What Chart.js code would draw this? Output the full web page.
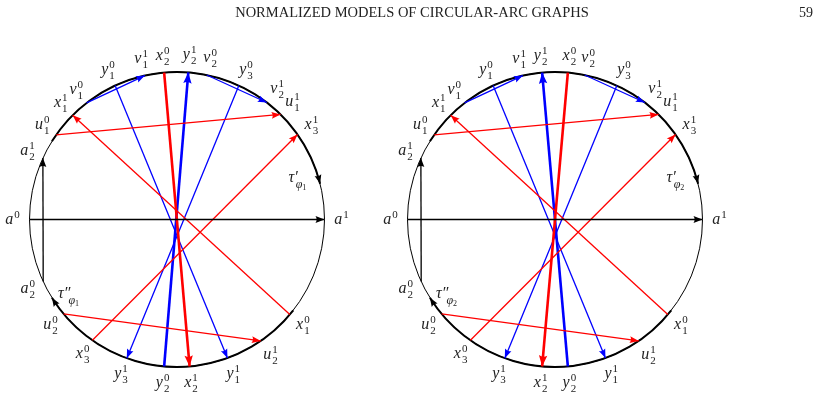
<!DOCTYPE html>
<html>
<head>
<meta charset="utf-8">
<script src="https://cdn.jsdelivr.net/npm/chart.js@4"></script>
<style>
  body { margin: 0; background: #fff; }
  #wrap { width: 825px; height: 419px; }
</style>
</head>
<body>
<div id="wrap"><canvas id="arcChart"></canvas></div>
<script>
// point names: base letter, subscript, superscript
const pointNames = ['a0', 'a1', 'a21', 'a20', 'u10', 'x11', 'v10', 'y10', 'v11', 'x20', 'y21', 'v20',
  'y30', 'v21', 'u11', 'x31', 'u20', 'x30', 'y31', 'y20', 'x21', 'y11', 'u21', 'x10'];
// angles (degrees, counterclockwise from a1)
const angles1 = [180, 0, 155.4, 204.9, 145, 135, 127.8, 114.8, 102.6, 95, 85.6, 78.4,
  65.2, 52.5, 45.4, 35.2, 219.8, 235, 250.1, 265, 274.9, 290, 304.6, 319.9];
const angles2 = [180, 0, 155.4, 204.9, 145, 135, 127.8, 114.8, 102.6, 85, 95, 78.4,
  65.2, 52.5, 45.4, 35.2, 219.8, 235, 250.1, 275, 265, 290, 304.6, 319.9];
// chords: from, to (arrow end), colour, thick
const chords = [
  ['a0', 'a1', 'black', false],
  ['a20', 'a21', 'black', false],
  ['u10', 'u11', 'red', false],
  ['x10', 'x11', 'red', false],
  ['x30', 'x31', 'red', false],
  ['u20', 'u21', 'red', false],
  ['x20', 'x21', 'red', true],
  ['v10', 'v11', 'blue', false],
  ['v20', 'v21', 'blue', false],
  ['y10', 'y11', 'blue', false],
  ['y30', 'y31', 'blue', false],
  ['y20', 'y21', 'blue', true]
];
// thick arcs: from angle, to angle (arrow end), label, label angle
const tauArcs1 = [[148, 14, "τ′", '1', 18.6], [322, 212, "τ″", '1', 215]];
const tauArcs2 = [[148, 14, "τ′", '2', 18.6], [322, 212, "τ″", '2', 215]];

const R = 147.5;
const circles = [
  { cx: 177, cy: 219.5, angles: angles1, taus: tauArcs1 },
  { cx: 555, cy: 219.5, angles: angles2, taus: tauArcs2 }
];

function pos(c, deg, r) {
  const t = deg * Math.PI / 180;
  return { x: c.cx + r * Math.cos(t), y: c.cy - r * Math.sin(t) };
}
function pt(c, name) {
  return pos(c, c.angles[pointNames.indexOf(name)], R);
}

const datasets = [];
circles.forEach(c => {
  chords.forEach(ch => {
    datasets.push({
      data: [pt(c, ch[0]), pt(c, ch[1])],
      showLine: true,
      borderColor: ch[2],
      borderWidth: ch[3] ? 2.6 : 1.3,
      pointRadius: 0,
      arrow: true,
      arrowSize: ch[3] ? 11 : 9
    });
  });
});

const serif = "'Liberation Serif', 'DejaVu Serif', serif";

function arrowHead(ctx, x, y, ang, size, color) {
  ctx.save();
  ctx.translate(x, y);
  ctx.rotate(ang);
  ctx.fillStyle = color;
  ctx.beginPath();
  ctx.moveTo(0, 0);
  ctx.lineTo(-size, -size * 0.38);
  ctx.quadraticCurveTo(-size * 0.75, 0, -size, size * 0.38);
  ctx.closePath();
  ctx.fill();
  ctx.restore();
}

function drawLabel(ctx, x, y, base, sub, sup, sub2) {
  ctx.font = 'italic 16px ' + serif;
  const bw = ctx.measureText(base).width;
  ctx.font = '11px ' + serif;
  const sw = Math.max(ctx.measureText(sup).width, ctx.measureText(sub).width + (sub2 ? 6 : 0));
  const left = x - (bw + sw + 1) / 2;
  ctx.textBaseline = 'alphabetic';
  ctx.textAlign = 'left';
  ctx.fillStyle = '#222';
  ctx.font = 'italic 16px ' + serif;
  ctx.fillText(base, left, y + 4);
  ctx.font = '11px ' + serif;
  if (sup) ctx.fillText(sup, left + bw + 1, y - 2);
  if (sub) {
    if (sub2) {
      ctx.font = 'italic 12px ' + serif;
      ctx.fillText(sub, left + bw - 2, y + 10);
      const w = ctx.measureText(sub).width;
      ctx.font = '8px ' + serif;
      ctx.fillText(sub2, left + bw - 2 + w, y + 12);
    } else {
      ctx.fillText(sub, left + bw + 1, y + 9);
    }
  }
}

const diagramPlugin = {
  id: 'diagram',
  beforeDatasetsDraw(chart) {
    const ctx = chart.ctx;
    const xs = chart.scales.x, ys = chart.scales.y;
    const k = xs.getPixelForValue(1) - xs.getPixelForValue(0);
    ctx.save();
    // header
    ctx.fillStyle = '#222';
    ctx.textBaseline = 'alphabetic';
    ctx.textAlign = 'center';
    ctx.font = '14.5px ' + serif;
    ctx.fillText('NORMALIZED MODELS OF CIRCULAR-ARC GRAPHS', xs.getPixelForValue(412), ys.getPixelForValue(17));
    ctx.textAlign = 'right';
    ctx.font = '14px ' + serif;
    ctx.fillText('59', xs.getPixelForValue(813), ys.getPixelForValue(17));
    circles.forEach(c => {
      const px = xs.getPixelForValue(c.cx), py = ys.getPixelForValue(c.cy);
      ctx.strokeStyle = 'black';
      ctx.lineWidth = 1;
      ctx.beginPath();
      ctx.arc(px, py, R * k, 0, Math.PI * 2);
      ctx.stroke();
      c.taus.forEach(t => {
        ctx.lineWidth = 2;
        ctx.beginPath();
        ctx.arc(px, py, R * k, -t[0] * Math.PI / 180, -t[1] * Math.PI / 180, false);
        ctx.stroke();
      });
    });
    ctx.restore();
  },
  afterDatasetsDraw(chart) {
    const ctx = chart.ctx;
    const xs = chart.scales.x, ys = chart.scales.y;
    chart.data.datasets.forEach(ds => {
      if (!ds.arrow) return;
      const a = ds.data[0], b = ds.data[1];
      const x1 = xs.getPixelForValue(a.x), y1 = ys.getPixelForValue(a.y);
      const x2 = xs.getPixelForValue(b.x), y2 = ys.getPixelForValue(b.y);
      arrowHead(ctx, x2, y2, Math.atan2(y2 - y1, x2 - x1), ds.arrowSize, ds.borderColor);
    });
    circles.forEach(c => {
      c.taus.forEach(t => {
        const e = pos(c, t[1], R);
        const th = t[1] * Math.PI / 180;
        const ex = xs.getPixelForValue(e.x), ey = ys.getPixelForValue(e.y);
        arrowHead(ctx, ex, ey, Math.atan2(Math.cos(th), Math.sin(th)), 9, 'black');
        const l = pos(c, t[4], R - 18);
        drawLabel(ctx, xs.getPixelForValue(l.x), ys.getPixelForValue(l.y), t[2], 'φ', '', t[3]);
      });
      pointNames.forEach((n, i) => {
        const l = pos(c, c.angles[i], R + 17);
        const sup = n.length === 2 ? n[1] : n[2];
        const sub = n.length === 3 ? n[1] : '';
        drawLabel(ctx, xs.getPixelForValue(l.x), ys.getPixelForValue(l.y), n[0], sub, sup);
      });
    });
  }
};

new Chart(document.getElementById('arcChart').getContext('2d'), {
  type: 'scatter',
  data: { datasets: datasets },
  options: {
    responsive: true,
    maintainAspectRatio: false,
    animation: false,
    layout: { padding: 0 },
    scales: {
      x: { type: 'linear', min: 0, max: 825, display: false },
      y: { type: 'linear', min: 0, max: 419, reverse: true, display: false }
    },
    plugins: {
      legend: { display: false },
      tooltip: { enabled: false }
    }
  },
  plugins: [diagramPlugin]
});
</script>
</body>
</html>
